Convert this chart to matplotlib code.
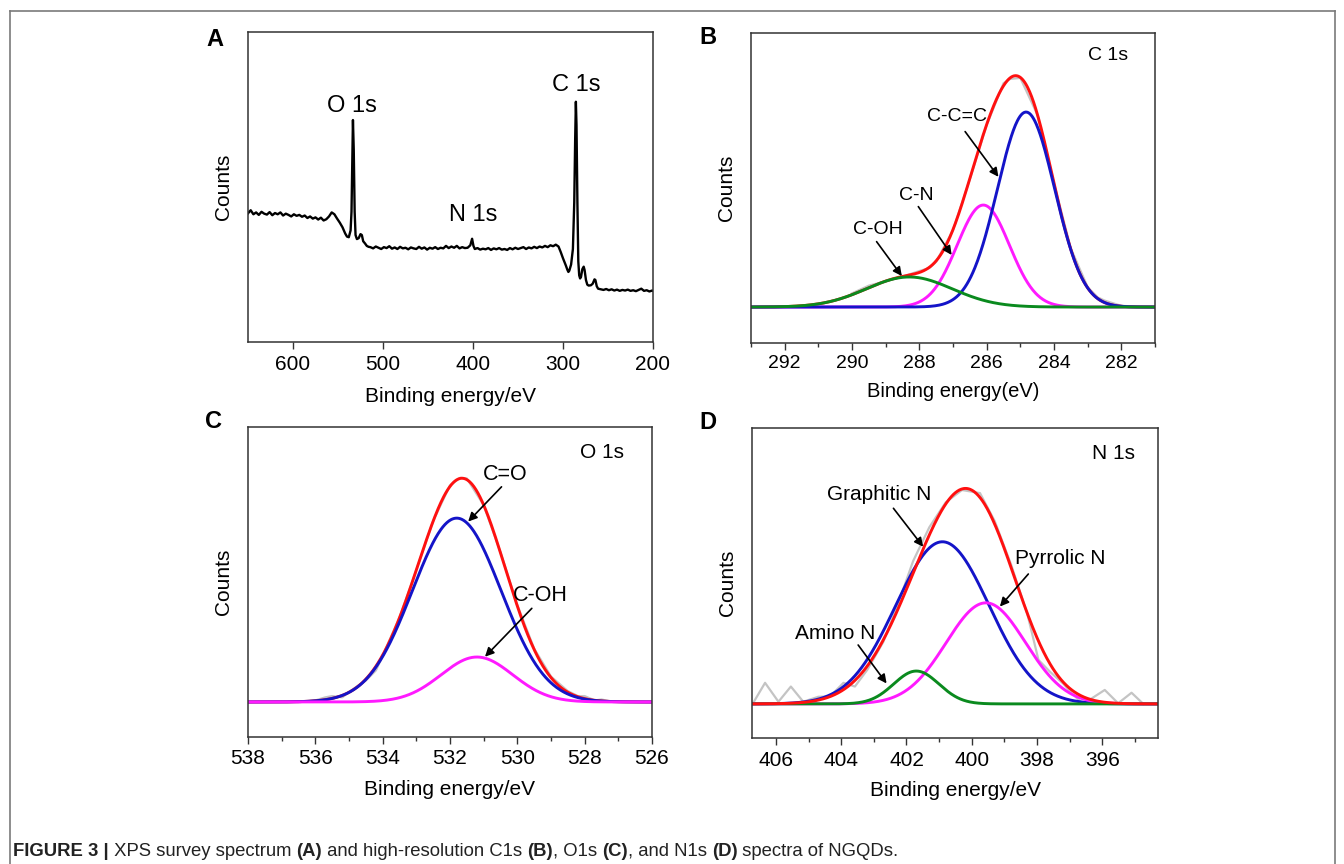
import numpy as np
import matplotlib
matplotlib.use("Agg")
import matplotlib.pyplot as plt
from matplotlib.lines import Line2D
from matplotlib.ticker import MultipleLocator, NullLocator
from matplotlib.offsetbox import TextArea, HPacker, AnchoredOffsetbox

plt.rcParams['font.family'] = ['Liberation Sans', 'DejaVu Sans']

# ---- survey spectrum (A) ----
survey_ev = [650, 647, 644, 641, 638, 635, 632, 629, 626, 623, 620, 617, 614, 611, 608, 605,
             602, 599, 596, 593, 590, 587, 584, 581, 578, 575, 572, 569, 566, 563, 560, 557,
             554, 551, 548, 545, 542, 540, 538, 536, 535, 534, 533.4, 532.5, 531.5, 530.5,
             529, 527, 525, 523.5, 522, 520, 518, 516,
             514, 511, 508, 505, 502, 499, 496, 493, 490, 487, 484, 481, 478, 475, 472, 469,
             466, 463, 460, 457, 454, 451, 448, 445, 442, 439, 436, 433, 430, 427, 424, 421,
             418, 415, 412, 409, 406, 403, 401, 399.5, 398, 395, 392, 389, 386, 383, 380, 377,
             374, 371, 368, 365, 362, 359, 356, 353, 350, 347, 344, 341, 338, 335, 332, 329,
             326, 323, 320, 317, 314, 311, 308, 305, 302.5, 300, 297, 295, 294, 293, 291, 289,
             287.5, 286.5, 285.7, 285, 284, 283, 282, 281, 280, 278.5, 277, 276, 274.5, 273,
             271.5, 269, 267, 265, 264, 262.5, 261, 258, 255, 252, 249, 246, 243, 240, 237,
             234, 231, 228, 225, 222, 219, 216, 213, 210, 207, 204, 201, 200]
survey_counts = [0.415, 0.425, 0.412, 0.418, 0.410, 0.420, 0.414, 0.411, 0.419, 0.409, 0.416,
                 0.412, 0.418, 0.408, 0.414, 0.410, 0.405, 0.412, 0.407, 0.410, 0.404, 0.408,
                 0.400, 0.405, 0.398, 0.402, 0.395, 0.401, 0.392, 0.396, 0.405, 0.418, 0.412,
                 0.398, 0.385, 0.370, 0.350, 0.340, 0.338, 0.360, 0.420, 0.600, 0.716, 0.620,
                 0.420, 0.345, 0.332, 0.335, 0.348, 0.345, 0.325, 0.318, 0.310, 0.307,
                 0.306, 0.302, 0.308, 0.304, 0.300, 0.306, 0.303, 0.309, 0.301, 0.305, 0.300,
                 0.307, 0.302, 0.304, 0.299, 0.305, 0.302, 0.300, 0.307, 0.301, 0.305, 0.298,
                 0.304, 0.301, 0.306, 0.300, 0.304, 0.302, 0.310, 0.303, 0.308, 0.304, 0.310,
                 0.302, 0.306, 0.303, 0.304, 0.312, 0.333, 0.310, 0.300, 0.303, 0.298, 0.301,
                 0.299, 0.303, 0.297, 0.302, 0.299, 0.303, 0.298, 0.300, 0.297, 0.303, 0.299,
                 0.304, 0.300, 0.303, 0.306, 0.300, 0.305, 0.302, 0.307, 0.303, 0.308, 0.305,
                 0.310, 0.306, 0.312, 0.309, 0.314, 0.308, 0.290, 0.270, 0.248, 0.232, 0.226,
                 0.230, 0.250, 0.300, 0.450, 0.650, 0.775, 0.700, 0.450, 0.260, 0.215, 0.205,
                 0.210, 0.235, 0.243, 0.232, 0.200, 0.185, 0.182, 0.183, 0.188, 0.202, 0.200,
                 0.180, 0.172, 0.170, 0.168, 0.171, 0.167, 0.170, 0.166, 0.169, 0.165, 0.168,
                 0.166, 0.169, 0.165, 0.167, 0.164, 0.168, 0.172, 0.165, 0.167, 0.163, 0.166,
                 0.165]

# ---- high resolution fits: (center eV, height, FWHM) ----
c1s_base = 0.116
c1s_names = ['C-C=C', 'C-N', 'C-OH']
c1s_peaks = [(284.83, 0.629, 2.0), (286.1, 0.329, 1.83), (288.3, 0.097, 3.0)]
c1s_colors = ['#1414c8', '#ff1aff', '#0a8a1e']
c1s_raw_ev = [290.0, 289.5, 289, 288.5, 288, 287.7, 287.5, 287, 286.5, 286, 285.5, 285.3,
              285, 284.5, 284, 283.5, 283, 282.7, 282.5, 282.3, 282, 281.5]
c1s_raw = [0.160, 0.185, 0.199, 0.214, 0.232, 0.242, 0.262, 0.364, 0.528, 0.703, 0.838,
           0.852, 0.855, 0.738, 0.515, 0.305, 0.18, 0.147, 0.137, 0.130, 0.120, 0.117]

o1s_base = 0.113
o1s_names = ['C=O', 'C-OH']
o1s_peaks = [(531.8, 0.593, 3.1), (531.2, 0.145, 2.5)]
o1s_colors = ['#1414c8', '#ff1aff']
o1s_raw_ev = [536.5, 536, 535.7, 535.5, 535.2, 535, 534.7, 534.5, 534.2, 534, 533.5, 533,
              532.5, 532, 531.7, 531.5, 531, 530.5, 530, 529.5, 529, 528.5, 528.2, 528,
              527.7, 527.5, 527.2, 527]
o1s_raw = [0.113, 0.118, 0.128, 0.132, 0.128, 0.145, 0.168, 0.182, 0.215, 0.262, 0.386,
           0.538, 0.697, 0.812, 0.836, 0.834, 0.748, 0.596, 0.425, 0.285, 0.195, 0.148,
           0.132, 0.132, 0.118, 0.121, 0.114, 0.113]

n1s_base = 0.11
n1s_names = ['Graphitic N', 'Pyrrolic N', 'Amino N']
n1s_peaks = [(400.9, 0.523, 3.37), (399.57, 0.326, 2.86), (401.7, 0.106, 1.63)]
n1s_colors = ['#1414c8', '#ff1aff', '#0a8a1e']
n1s_envelope = [(401.0, 0.40, 3.3), (399.6, 0.40, 2.9)]
n1s_raw_ev = [406.7, 406.33, 405.92, 405.54, 405.16, 404.7, 404.34, 403.93, 403.58, 403.2,
              402.71, 402.3, 401.8, 401.3, 400.8, 400.3, 399.75, 399.3, 398.8, 398.3,
              397.96, 397.61, 397.2, 396.9, 396.59, 395.93, 395.52, 395.11, 394.75]
n1s_raw = [0.112, 0.178, 0.117, 0.166, 0.117, 0.133, 0.134, 0.178, 0.166, 0.22, 0.31, 0.42,
           0.57, 0.68, 0.76, 0.80, 0.79, 0.70, 0.56, 0.40, 0.252, 0.214, 0.175, 0.14, 0.11,
           0.155, 0.112, 0.146, 0.11]

RED = '#ff1010'
GRAY = '#c4c4c4'
LW = 2.1


def gauss(x, c, h, w):
    return h * np.exp(-4 * np.log(2) * (x - c) ** 2 / w ** 2)


def peaks_sum(x, peaks):
    return sum(gauss(x, *p) for p in peaks)


fig = plt.figure(figsize=(13.44, 8.64), dpi=100)

# figure frame
for xs, ys in [([9.5, 9.5], [0, 853.5]), ([9.5, 1335], [853.5, 853.5]), ([1335, 1335], [0, 853.5])]:
    fig.add_artist(Line2D(np.array(xs) / 1344, np.array(ys) / 864, color='#7a7a7a', lw=1.2))

axA = fig.add_axes([248 / 1344, 522 / 864, 405 / 1344, 310 / 864])
axB = fig.add_axes([751 / 1344, 521 / 864, 404 / 1344, 310 / 864])
axC = fig.add_axes([248 / 1344, 127 / 864, 404 / 1344, 310 / 864])
axD = fig.add_axes([752 / 1344, 126 / 864, 406 / 1344, 310 / 864])


def style(ax, xlim, major, minor, xlabel, lsize, xlsize, lpad):
    ax.set_xlim(*xlim)
    ax.set_ylim(0, 1)
    ax.xaxis.set_major_locator(MultipleLocator(major))
    if minor:
        ax.xaxis.set_minor_locator(MultipleLocator(minor))
    ax.yaxis.set_major_locator(NullLocator())
    ax.tick_params(axis='x', which='major', direction='out', length=5, width=1.0,
                   labelsize=lsize, pad=4, color='#333333')
    ax.tick_params(axis='x', which='minor', direction='out', length=3, width=1.0,
                   color='#333333')
    for s in ax.spines.values():
        s.set_color('#333333')
        s.set_linewidth(1.1)
    ax.set_xlabel(xlabel, fontsize=xlsize, labelpad=lpad)
    ax.set_ylabel('Counts', fontsize=15, labelpad=11)


# A
axA.plot(survey_ev, survey_counts, color='black', lw=1.7)
style(axA, (650, 200), 100, None, 'Binding energy/eV', 15, 15, 10)
axA.text(534.6, 0.76, 'O 1s', fontsize=17, ha='center', va='center')
axA.text(285.1, 0.83, 'C 1s', fontsize=17, ha='center', va='center')
axA.text(400, 0.41, 'N 1s', fontsize=17, ha='center', va='center')


def arrow(ax, tail, tip):
    ax.annotate('', xy=tip, xytext=tail,
                arrowprops=dict(arrowstyle='-|>', color='black', lw=1.2,
                                mutation_scale=13, shrinkA=0, shrinkB=0))


# B
xb = np.linspace(293, 281, 600)
axB.plot(c1s_raw_ev, c1s_raw, color=GRAY, lw=1.6)
axB.plot(xb, c1s_base + peaks_sum(xb, c1s_peaks), color=RED, lw=LW)
for i in [1, 0, 2]:
    axB.plot(xb, c1s_base + gauss(xb, *c1s_peaks[i]), color=c1s_colors[i], lw=LW)
style(axB, (293, 281), 2, 1, 'Binding energy(eV)', 14, 14.5, 7)
axB.text(282.4, 0.929, 'C 1s', fontsize=14, ha='center', va='center')
axB.text(286.89, 0.73, c1s_names[0], fontsize=14, ha='center', va='center')
arrow(axB, (286.64, 0.682), (285.65, 0.536))
axB.text(288.08, 0.477, c1s_names[1], fontsize=14, ha='center', va='center')
arrow(axB, (288.03, 0.44), (287.04, 0.284))
axB.text(289.22, 0.367, c1s_names[2], fontsize=14, ha='center', va='center')
arrow(axB, (289.27, 0.327), (288.52, 0.216))

# C
xc = np.linspace(538, 526, 600)
axC.plot(o1s_raw_ev, o1s_raw, color=GRAY, lw=1.6)
axC.plot(xc, o1s_base + peaks_sum(xc, o1s_peaks), color=RED, lw=LW)
for i in range(2):
    axC.plot(xc, o1s_base + gauss(xc, *o1s_peaks[i]), color=o1s_colors[i], lw=LW)
style(axC, (538, 526), 2, 1, 'Binding energy/eV', 15, 15, 8)
axC.text(527.48, 0.917, 'O 1s', fontsize=15, ha='center', va='center')
axC.text(530.37, 0.848, o1s_names[0], fontsize=15.5, ha='center', va='center')
arrow(axC, (530.47, 0.807), (531.46, 0.695))
axC.text(529.33, 0.458, o1s_names[1], fontsize=15.5, ha='center', va='center')
arrow(axC, (529.57, 0.415), (530.96, 0.259))

# D
xd = np.linspace(406.73, 394.3, 600)
axD.plot(n1s_raw_ev, n1s_raw, color=GRAY, lw=1.6)
for i in [0, 1, 2]:
    axD.plot(xd, n1s_base + gauss(xd, *n1s_peaks[i]), color=n1s_colors[i], lw=LW)
axD.plot(xd, n1s_base + peaks_sum(xd, n1s_envelope), color=RED, lw=LW)
style(axD, (406.73, 394.3), 2, 1, 'Binding energy/eV', 15, 15, 8)
axD.text(395.67, 0.918, 'N 1s', fontsize=15, ha='center', va='center')
axD.text(402.83, 0.784, n1s_names[0], fontsize=15, ha='center', va='center')
arrow(axD, (402.40, 0.741), (401.49, 0.617))
axD.text(397.30, 0.58, n1s_names[1], fontsize=15, ha='center', va='center')
arrow(axD, (398.27, 0.529), (399.14, 0.424))
axD.text(404.19, 0.338, n1s_names[2], fontsize=15, ha='center', va='center')
arrow(axD, (403.48, 0.30), (402.61, 0.176))

# panel letters
for lab, px, py in [('A', 215, 40), ('B', 708, 38), ('C', 214, 422), ('D', 708, 423)]:
    fig.text(px / 1344, 1 - py / 864, lab, fontsize=17, fontweight='bold',
             ha='center', va='center')

# caption
cap_parts = [('FIGURE 3 |', 'bold'), (' XPS survey spectrum ', 'normal'), ('(A)', 'bold'),
             (' and high-resolution C1s ', 'normal'), ('(B)', 'bold'), (', O1s ', 'normal'),
             ('(C)', 'bold'), (', and N1s ', 'normal'), ('(D)', 'bold'),
             (' spectra of NGQDs.', 'normal')]
areas = [TextArea(t, textprops=dict(fontsize=13.3, fontweight=w, color='#222222',
                                    family=['Liberation Sans Narrow', 'Liberation Sans']))
         for t, w in cap_parts]
box = HPacker(children=areas, align='baseline', pad=0, sep=0)
anchored = AnchoredOffsetbox(loc='center left', child=box, pad=0, frameon=False,
                             bbox_to_anchor=(13 / 1344, 1 - 851 / 864),
                             bbox_transform=fig.transFigure, borderpad=0)
fig.add_artist(anchored)

fig.savefig('out.png', dpi=100)
